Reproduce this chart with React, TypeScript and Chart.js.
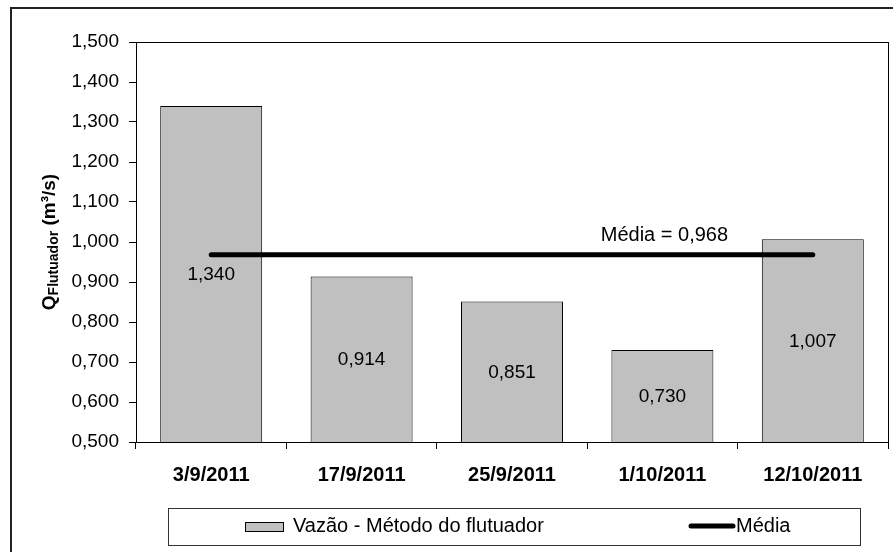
import React, { useEffect, useRef } from 'react';
import { Chart, registerables } from 'chart.js';

Chart.register(...registerables);

const categories = ['3/9/2011', '17/9/2011', '25/9/2011', '1/10/2011', '12/10/2011'];
const vazaoValues = [1.34, 0.914, 0.851, 0.73, 1.007];
const mediaValue = 0.968;
const mediaValues = [0.968, 0.968, 0.968, 0.968, 0.968];
const seriesNames = ['Vazão - Método do flutuador', 'Média'];
const yMin = 0.5;
const yMax = 1.5;
const yStep = 0.1;
const yTitleMain = 'Q';
const yTitleSub = 'Flutuador';
const yTitleUnit = ' (m³/s)';
const mediaLabelCategory = '1/10/2011';

const FONT = '"Liberation Sans", Arial, Helvetica, sans-serif';
const fmt = (v: number) => v.toFixed(3).replace('.', ',');

const decorPlugin = {
  id: 'decor',
  afterDatasetsDraw(chart: any) {
    const { ctx, scales, chartArea } = chart;
    const x = scales.x;
    const y = scales.y;
    ctx.save();
    // data labels centred in the visible part of each bar
    const meta = chart.getDatasetMeta(0);
    ctx.fillStyle = '#000';
    ctx.font = `19px ${FONT}`;
    ctx.textAlign = 'center';
    ctx.textBaseline = 'middle';
    meta.data.forEach((bar: any, i: number) => {
      const p = bar.getProps(['x', 'y', 'base'], true);
      const base = Math.min(p.base, chartArea.bottom);
      ctx.fillText(fmt(vazaoValues[i]), p.x, (p.y + base) / 2 + 1);
    });
    // media label
    const idx = categories.indexOf(mediaLabelCategory);
    const mx = x.getPixelForValue(idx);
    const my = y.getPixelForValue(mediaValue);
    ctx.font = `20px ${FONT}`;
    ctx.fillText(`Média = ${fmt(mediaValue)}`, mx + 2, my - 19);
    ctx.restore();
  },
  afterDraw(chart: any) {
    const { ctx, chartArea } = chart;
    const { left, top, right, bottom } = chartArea;
    ctx.save();
    // plot frame
    ctx.strokeStyle = '#000';
    ctx.lineWidth = 1;
    ctx.strokeRect(Math.round(left) + 0.5, Math.round(top) + 0.5, Math.round(right - left), Math.round(bottom - top));

    // outer chart border (cropped on right/bottom)
    ctx.strokeStyle = '#222';
    ctx.lineWidth = 2;
    ctx.strokeRect(11, 8, 1000, 1000);

    // y title with subscript
    ctx.fillStyle = '#000';
    ctx.translate(55, (top + bottom) / 2);
    ctx.rotate(-Math.PI / 2);
    ctx.textBaseline = 'alphabetic';
    ctx.textAlign = 'left';
    ctx.font = `bold 19px ${FONT}`;
    const wQ = ctx.measureText(yTitleMain).width;
    const wU = ctx.measureText(yTitleUnit).width;
    ctx.font = `bold 14px ${FONT}`;
    const wS = ctx.measureText(yTitleSub).width;
    const total = wQ + wS + wU;
    let sx = -total / 2;
    ctx.font = `bold 19px ${FONT}`;
    ctx.fillText(yTitleMain, sx, 0);
    sx += wQ;
    ctx.font = `bold 14px ${FONT}`;
    ctx.fillText(yTitleSub, sx, 3);
    sx += wS;
    ctx.font = `bold 19px ${FONT}`;
    ctx.fillText(yTitleUnit, sx, 0);
    ctx.restore();

    // legend
    ctx.save();
    ctx.strokeStyle = '#333';
    ctx.lineWidth = 1;
    ctx.strokeRect(168.5, 508.5, 692, 37);
    const ds = chart.data.datasets;
    ctx.fillStyle = '#C0C0C0';
    ctx.fillRect(245, 522, 39, 10);
    ctx.strokeStyle = '#000';
    ctx.strokeRect(245.5, 522.5, 38, 9);
    ctx.fillStyle = '#000';
    ctx.font = `20px ${FONT}`;
    ctx.textAlign = 'left';
    ctx.textBaseline = 'alphabetic';
    ctx.fillText(ds[0].label, 293, 532);
    ctx.beginPath();
    ctx.lineWidth = 5;
    ctx.lineCap = 'round';
    ctx.moveTo(691, 526);
    ctx.lineTo(733, 526);
    ctx.stroke();
    ctx.fillText(ds[1].label, 736, 532);
    ctx.restore();
  },
};

export default function App() {
  const ref = useRef<HTMLCanvasElement>(null);
  useEffect(() => {
    document.body.style.margin = '0';
    const canvas = ref.current!;
    const chart = new Chart(canvas, {
      type: 'bar',
      data: {
        labels: categories,
        datasets: [
          {
            type: 'bar',
            label: seriesNames[0],
            data: vazaoValues,
            backgroundColor: '#C0C0C0',
            borderColor: '#000',
            borderWidth: 1,
            barPercentage: 0.678,
            categoryPercentage: 1,
            order: 1,
          } as any,
          {
            type: 'line',
            label: seriesNames[1],
            data: mediaValues,
            borderColor: '#000',
            borderWidth: 5,
            borderCapStyle: 'round',
            pointRadius: 0,
            fill: false,
            order: 0,
          } as any,
        ],
      },
      options: {
        responsive: false,
        animation: false,
        devicePixelRatio: 1,
        layout: { padding: { top: 42, right: 5, bottom: 0, left: 0 } },
        plugins: {
          legend: { display: false },
          tooltip: { enabled: false },
          title: { display: false },
        },
        scales: {
          x: {
            type: 'category',
            offset: true,
            grid: {
              offset: true,
              drawOnChartArea: false,
              drawTicks: true,
              tickLength: 7,
              color: '#000',
            },
            border: { display: true, color: '#000', width: 1 },
            ticks: {
              color: '#000',
              font: { family: FONT, size: 20, weight: 'bold' },
              padding: 14,
              maxRotation: 0,
              autoSkip: false,
            },
            afterFit(scale: any) {
              scale.height = 110;
              scale.paddingLeft = 0;
              scale.paddingRight = 0;
              scale.paddingTop = 0;
              scale.paddingBottom = 0;
            },
          },
          y: {
            type: 'linear',
            min: yMin,
            max: yMax,
            ticks: {
              stepSize: yStep,
              color: '#000',
              font: { family: FONT, size: 19 },
              padding: 10,
              callback: (v: any) => fmt(Number(v)),
            },
            grid: {
              drawOnChartArea: false,
              drawTicks: true,
              tickLength: 7,
              color: '#000',
            },
            border: { display: true, color: '#000', width: 1 },
            afterFit(scale: any) {
              scale.width = 136;
              scale.paddingLeft = 0;
              scale.paddingRight = 0;
              scale.paddingTop = 0;
              scale.paddingBottom = 0;
            },
          },
        },
      },
      plugins: [decorPlugin],
    });
    return () => chart.destroy();
  }, []);
  return (
    <canvas
      ref={ref}
      width={893}
      height={552}
      style={{ display: 'block', width: '893px', height: '552px' }}
    />
  );
}
